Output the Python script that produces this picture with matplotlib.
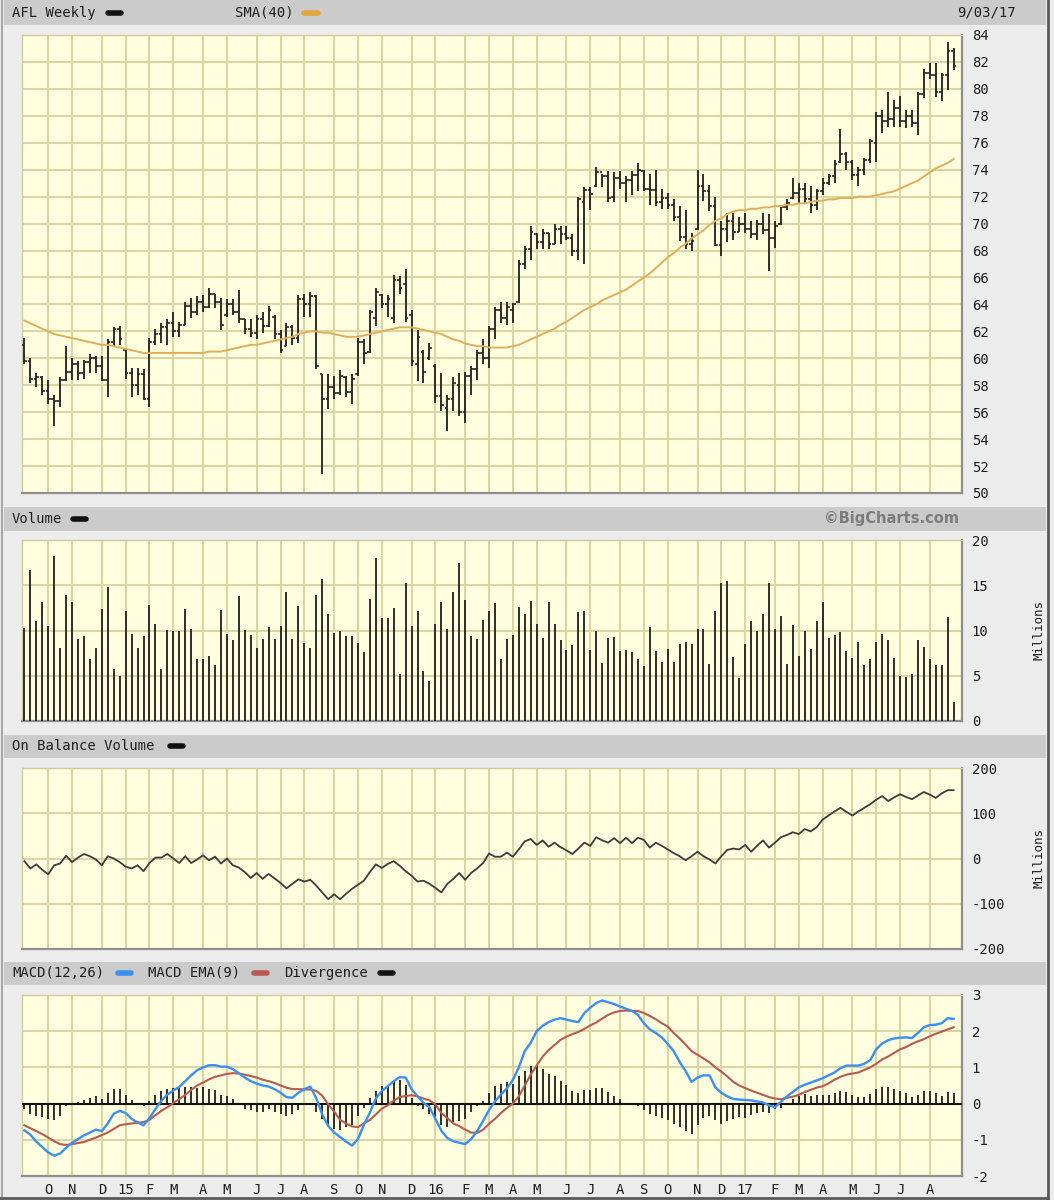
import matplotlib
matplotlib.use("Agg")
import numpy as np
import matplotlib.pyplot as plt
from matplotlib.lines import Line2D
from matplotlib.patches import Rectangle

# weekly bars, Sep 2014 - Aug 2017
HIGH = [61.5, 60.0, 58.9, 58.7, 58.4, 57.3, 58.6, 60.9, 60.0, 59.8,
        59.9, 60.3, 60.2, 60.2, 61.4, 62.3, 62.4, 60.7, 59.3, 59.3,
        59.2, 61.5, 62.2, 62.6, 62.9, 63.4, 62.7, 64.2, 64.5, 64.6,
        64.7, 65.2, 64.8, 64.5, 64.4, 64.4, 65.1, 62.9, 62.9, 63.2,
        63.4, 63.9, 63.2, 62.1, 62.6, 62.5, 64.7, 64.8, 64.9, 64.7,
        58.8, 58.8, 58.7, 59.1, 58.7, 58.8, 61.5, 61.4, 63.6, 65.2,
        64.8, 64.7, 66.2, 66.1, 66.6, 63.6, 62.1, 60.6, 61.1, 59.6,
        58.9, 57.3, 58.6, 58.9, 59.0, 59.4, 60.6, 61.4, 62.4, 63.8,
        64.2, 64.2, 64.1, 67.3, 68.3, 69.8, 69.3, 69.6, 69.3, 70.0,
        69.8, 69.8, 69.2, 72.0, 72.7, 72.7, 74.2, 73.7, 73.9, 73.8,
        73.9, 73.5, 73.9, 74.5, 74.0, 73.7, 74.0, 72.6, 72.3, 71.8,
        71.3, 71.0, 69.3, 74.0, 73.7, 72.9, 72.0, 70.2, 70.8, 70.8,
        70.5, 70.8, 70.2, 70.3, 70.8, 70.7, 70.2, 71.4, 71.8, 73.4,
        73.0, 73.0, 72.8, 72.6, 73.4, 73.7, 74.7, 77.0, 75.3, 74.7,
        74.2, 74.9, 76.3, 78.3, 78.4, 79.8, 79.2, 79.5, 78.4, 78.4,
        79.8, 81.5, 81.9, 81.9, 81.2, 83.5, 83.0]
LOW = [59.6, 58.2, 57.9, 57.3, 56.6, 55.0, 56.4, 58.3, 58.4, 58.4,
       58.5, 58.9, 58.9, 58.3, 57.1, 60.9, 61.0, 58.5, 57.1, 57.3,
       56.9, 56.4, 61.0, 61.1, 61.0, 61.6, 61.6, 62.5, 63.0, 63.2,
       63.4, 63.7, 63.7, 62.1, 63.1, 63.2, 62.6, 61.8, 61.6, 61.4,
       61.9, 62.3, 61.4, 60.4, 60.9, 61.0, 61.1, 63.1, 63.1, 59.2,
       51.4, 56.2, 57.0, 57.3, 57.1, 56.6, 58.7, 59.6, 60.4, 62.4,
       63.7, 63.1, 62.6, 64.8, 62.7, 59.4, 58.3, 58.2, 59.9, 56.7,
       56.1, 54.6, 56.1, 55.7, 55.2, 57.3, 58.4, 59.6, 59.3, 61.4,
       62.6, 62.5, 62.6, 64.1, 66.6, 67.3, 68.1, 68.1, 68.1, 68.5,
       68.5, 68.8, 67.6, 67.3, 67.0, 71.0, 72.7, 72.7, 71.6, 71.6,
       72.6, 71.6, 72.1, 72.4, 72.4, 71.4, 71.3, 71.1, 71.1, 70.2,
       68.7, 68.1, 68.0, 69.5, 71.7, 70.9, 68.3, 67.6, 68.6, 68.8,
       69.4, 69.3, 68.9, 68.8, 69.2, 66.5, 68.2, 69.9, 71.0, 71.8,
       71.5, 71.5, 70.8, 71.0, 72.1, 72.9, 73.0, 74.5, 74.0, 73.2,
       72.8, 73.6, 74.5, 74.6, 76.7, 77.2, 77.2, 77.2, 77.1, 77.2,
       76.6, 79.3, 80.7, 79.4, 79.1, 79.9, 81.4]
OPEN = [61.0, 59.8, 58.5, 58.6, 57.6, 57.0, 56.8, 58.4, 59.0, 59.6,
        58.9, 59.7, 60.0, 59.4, 58.4, 61.2, 62.2, 60.6, 58.9, 58.0,
        58.8, 57.0, 61.2, 61.8, 62.3, 62.6, 62.0, 62.5, 63.9, 63.4,
        64.2, 63.8, 64.8, 64.2, 63.2, 64.0, 63.4, 62.9, 62.2, 61.9,
        62.9, 62.4, 63.1, 61.8, 60.9, 62.3, 61.5, 64.4, 64.0, 64.6,
        58.8, 57.0, 57.9, 57.4, 58.6, 57.5, 58.8, 61.2, 60.5, 63.0,
        64.7, 64.0, 63.0, 65.8, 65.5, 63.2, 59.6, 60.5, 60.0, 59.4,
        57.2, 56.3, 57.0, 58.0, 56.0, 58.7, 59.2, 60.4, 60.0, 62.2,
        63.6, 63.0, 63.6, 64.2, 67.0, 68.1, 69.2, 68.6, 69.3, 68.5,
        69.6, 69.2, 68.9, 68.0, 71.6, 72.5, 72.8, 73.8, 73.5, 72.0,
        73.4, 73.0, 73.2, 73.6, 73.9, 72.6, 72.5, 71.6, 71.9, 71.4,
        70.5, 69.0, 68.5, 69.6, 72.8, 72.4, 71.3, 68.4, 69.6, 70.2,
        69.4, 70.0, 69.6, 69.2, 70.0, 69.5, 68.9, 70.0, 71.2, 71.9,
        72.3, 72.6, 71.8, 71.4, 72.4, 73.0, 73.5, 74.6, 75.2, 74.6,
        73.6, 74.0, 74.7, 76.0, 78.0, 77.6, 77.8, 78.6, 77.6, 78.0,
        77.5, 79.6, 81.2, 81.0, 79.8, 81.0, 82.8]
CLOSE = [59.8, 58.5, 58.6, 57.6, 57.0, 56.8, 58.4, 59.0, 59.6, 58.9,
         59.7, 60.0, 59.4, 58.4, 61.2, 62.2, 61.4, 58.9, 58.0, 58.8,
         57.0, 61.2, 61.8, 62.3, 62.6, 62.0, 62.5, 63.9, 63.4, 64.2,
         63.8, 64.8, 64.2, 62.5, 64.0, 63.4, 62.9, 62.2, 61.9, 62.9,
         62.4, 63.6, 61.8, 60.6, 62.3, 61.5, 64.4, 64.0, 64.6, 59.4,
         57.0, 57.9, 57.4, 58.7, 57.5, 58.5, 61.2, 60.4, 63.4, 64.9,
         64.0, 64.4, 65.8, 65.2, 63.0, 59.8, 61.6, 59.0, 60.8, 57.2,
         56.5, 57.0, 58.2, 56.0, 58.7, 59.2, 60.4, 60.0, 62.2, 63.6,
         63.0, 63.8, 64.0, 67.0, 68.1, 69.4, 68.6, 69.3, 68.5, 69.6,
         69.2, 68.9, 68.0, 71.8, 72.5, 72.2, 73.8, 73.5, 71.9, 73.4,
         73.0, 73.2, 73.6, 74.0, 72.6, 72.5, 71.6, 71.9, 71.4, 70.5,
         69.0, 68.5, 68.7, 72.8, 72.4, 71.3, 68.4, 69.6, 70.2, 69.4,
         70.0, 69.6, 69.2, 70.0, 69.5, 68.9, 69.8, 71.2, 71.5, 72.3,
         72.6, 71.8, 71.4, 72.4, 73.0, 73.5, 74.4, 75.2, 74.6, 73.6,
         74.0, 74.7, 76.1, 78.0, 77.6, 77.8, 78.6, 77.6, 78.0, 77.5,
         79.6, 81.2, 81.0, 79.8, 81.0, 82.8, 81.7]
SMA40 = [62.8, 62.6, 62.4, 62.2, 62.0, 61.8, 61.7, 61.6, 61.5, 61.4,
         61.3, 61.2, 61.1, 61.0, 61.0, 60.9, 60.8, 60.7, 60.6, 60.5,
         60.4, 60.4, 60.4, 60.4, 60.4, 60.4, 60.4, 60.4, 60.4, 60.4,
         60.4, 60.5, 60.5, 60.5, 60.6, 60.7, 60.8, 60.9, 61.0, 61.0,
         61.1, 61.2, 61.3, 61.4, 61.5, 61.6, 61.8, 61.9, 62.0, 62.0,
         61.9, 61.9, 61.8, 61.7, 61.6, 61.6, 61.6, 61.7, 61.8, 61.9,
         62.0, 62.1, 62.2, 62.3, 62.3, 62.3, 62.2, 62.1, 62.0, 61.9,
         61.8, 61.6, 61.4, 61.3, 61.1, 61.0, 60.9, 60.9, 60.8, 60.8,
         60.8, 60.8, 60.9, 61.0, 61.2, 61.4, 61.6, 61.8, 62.0, 62.2,
         62.5, 62.7, 63.0, 63.3, 63.6, 63.8, 64.0, 64.3, 64.5, 64.7,
         64.9, 65.1, 65.4, 65.7, 66.0, 66.3, 66.7, 67.1, 67.5, 67.8,
         68.2, 68.5, 68.9, 69.2, 69.5, 69.9, 70.2, 70.4, 70.7, 70.9,
         71.0, 71.0, 71.1, 71.1, 71.2, 71.2, 71.3, 71.3, 71.4, 71.4,
         71.5, 71.5, 71.6, 71.7, 71.7, 71.8, 71.8, 71.9, 71.9, 71.9,
         72.0, 72.0, 72.0, 72.1, 72.2, 72.3, 72.4, 72.6, 72.8, 73.0,
         73.2, 73.5, 73.8, 74.1, 74.3, 74.5, 74.8]

# volume, millions
VOLUME = [10.3, 16.7, 11.1, 13.2, 10.5, 18.2, 8.1, 13.9, 13.2, 9.1,
          9.4, 6.8, 8.1, 12.4, 14.8, 5.7, 5.0, 12.2, 9.6, 8.1,
          9.4, 12.8, 10.7, 5.7, 10.1, 10.0, 10.0, 12.4, 10.2, 6.8,
          6.8, 7.2, 6.2, 12.3, 9.6, 8.9, 13.8, 10.1, 9.5, 8.1,
          9.1, 10.4, 9.1, 10.5, 14.3, 9.1, 12.7, 8.6, 8.1, 13.9,
          15.7, 11.8, 9.7, 9.9, 9.4, 9.4, 8.6, 7.6, 13.5, 18.0,
          11.4, 11.4, 12.5, 5.2, 15.3, 10.5, 12.2, 5.5, 4.4, 10.7,
          13.1, 10.2, 14.3, 17.5, 13.4, 9.4, 9.1, 11.2, 12.2, 13.0,
          6.8, 9.1, 9.5, 12.6, 11.8, 13.3, 10.7, 9.2, 13.1, 10.7,
          8.9, 7.9, 8.4, 12.0, 12.1, 7.9, 10.0, 6.4, 9.2, 9.3,
          7.7, 7.9, 7.6, 6.8, 6.1, 10.4, 7.7, 6.5, 8.0, 6.5,
          8.5, 8.7, 8.5, 10.2, 10.2, 6.3, 12.1, 15.3, 15.5, 7.1,
          4.7, 8.5, 11.1, 10.0, 11.8, 15.3, 10.2, 11.6, 6.3, 10.6,
          7.2, 10.0, 8.0, 11.1, 13.1, 9.2, 9.5, 9.8, 7.7, 7.0,
          8.7, 6.2, 6.8, 8.7, 9.6, 8.9, 7.0, 5.0, 4.9, 5.2,
          8.9, 8.2, 6.8, 6.2, 6.2, 11.5, 2.1]

# on balance volume, millions
OBV = [-6, -22, -13, -25, -35, -15, -11, 6, -8, 2,
       10, 5, -2, -15, 5, 0, -8, -18, -22, -15,
       -28, -10, 2, 2, 10, 0, -10, 5, -10, -2,
       7, -4, 4, -11, 0, -15, -20, -30, -43, -32,
       -45, -34, -44, -54, -66, -56, -46, -51, -47, -60,
       -75, -90, -79, -90, -78, -67, -58, -49, -30, -13,
       -21, -12, -6, -16, -28, -38, -51, -49, -56, -65,
       -75, -56, -45, -32, -47, -32, -22, -10, 11, 4,
       4, 13, 4, 20, 38, 43, 30, 40, 26, 35,
       25, 18, 10, 22, 35, 28, 47, 40, 35, 45,
       34, 46, 34, 46, 41, 24, 35, 28, 20, 12,
       5, -4, 5, 15, 5, -2, -11, 5, 19, 22,
       20, 30, 15, 28, 40, 24, 35, 47, 52, 58,
       54, 65, 60, 69, 86, 95, 104, 112, 103, 95,
       104, 112, 120, 130, 138, 127, 135, 142, 136, 131,
       139, 147, 141, 134, 144, 151, 151]

MACD = [-0.74, -0.86, -1.05, -1.20, -1.35, -1.44, -1.38, -1.22, -1.08, -0.98,
        -0.88, -0.80, -0.72, -0.76, -0.55, -0.28, -0.20, -0.26, -0.42, -0.52,
        -0.60, -0.40, -0.15, 0.08, 0.25, 0.36, 0.46, 0.62, 0.78, 0.92,
        1.00, 1.06, 1.06, 1.02, 1.02, 0.95, 0.84, 0.72, 0.62, 0.55,
        0.50, 0.47, 0.40, 0.30, 0.18, 0.16, 0.30, 0.40, 0.47, 0.15,
        -0.30, -0.62, -0.80, -0.92, -1.05, -1.16, -0.98, -0.58, -0.25, 0.14,
        0.35, 0.48, 0.62, 0.73, 0.72, 0.40, 0.20, 0.02, -0.10, -0.42,
        -0.75, -0.95, -1.04, -1.08, -1.12, -0.98, -0.76, -0.48, -0.18, 0.06,
        0.25, 0.42, 0.65, 1.00, 1.45, 1.68, 2.00, 2.15, 2.25, 2.32,
        2.36, 2.32, 2.28, 2.25, 2.50, 2.65, 2.78, 2.85, 2.80, 2.75,
        2.68, 2.62, 2.56, 2.45, 2.22, 2.05, 1.95, 1.83, 1.65, 1.45,
        1.15, 0.90, 0.60, 0.72, 0.78, 0.78, 0.45, 0.30, 0.20, 0.13,
        0.11, 0.10, 0.09, 0.06, 0.03, -0.05, -0.10, 0.05, 0.20, 0.32,
        0.45, 0.52, 0.58, 0.64, 0.70, 0.78, 0.86, 0.98, 1.05, 1.05,
        1.05, 1.10, 1.20, 1.50, 1.66, 1.75, 1.80, 1.82, 1.83, 1.81,
        1.95, 2.11, 2.17, 2.18, 2.22, 2.36, 2.34]
SIGNAL = [-0.60, -0.68, -0.76, -0.84, -0.94, -1.04, -1.12, -1.14, -1.12, -1.09,
          -1.06, -1.00, -0.94, -0.87, -0.80, -0.70, -0.60, -0.57, -0.55, -0.53,
          -0.51, -0.45, -0.32, -0.20, -0.10, 0.02, 0.12, 0.24, 0.38, 0.50,
          0.58, 0.67, 0.74, 0.78, 0.82, 0.84, 0.83, 0.80, 0.76, 0.72,
          0.66, 0.62, 0.57, 0.50, 0.44, 0.40, 0.40, 0.39, 0.39, 0.35,
          0.22, -0.02, -0.22, -0.45, -0.55, -0.63, -0.65, -0.55, -0.45, -0.30,
          -0.14, -0.05, 0.08, 0.18, 0.21, 0.23, 0.20, 0.14, 0.09, -0.02,
          -0.26, -0.40, -0.55, -0.62, -0.72, -0.80, -0.81, -0.72, -0.56, -0.42,
          -0.26, -0.12, 0.00, 0.20, 0.50, 0.80, 1.05, 1.30, 1.48, 1.62,
          1.76, 1.85, 1.92, 1.98, 2.06, 2.16, 2.24, 2.35, 2.45, 2.52,
          2.56, 2.57, 2.56, 2.56, 2.50, 2.42, 2.33, 2.22, 2.13, 1.95,
          1.80, 1.63, 1.45, 1.35, 1.25, 1.14, 1.00, 0.88, 0.75, 0.60,
          0.50, 0.43, 0.36, 0.30, 0.24, 0.18, 0.14, 0.12, 0.16, 0.19,
          0.24, 0.32, 0.38, 0.44, 0.48, 0.56, 0.66, 0.74, 0.80, 0.83,
          0.86, 0.93, 1.00, 1.10, 1.22, 1.30, 1.40, 1.50, 1.56, 1.65,
          1.72, 1.78, 1.86, 1.93, 1.99, 2.05, 2.11]
DIVERGENCE = [-0.14, -0.28, -0.33, -0.37, -0.42, -0.44, -0.33, -0.07, 0.00, 0.05,
              0.11, 0.16, 0.20, 0.12, 0.30, 0.40, 0.40, 0.25, 0.09, 0.03,
              -0.07, 0.07, 0.23, 0.35, 0.40, 0.42, 0.44, 0.45, 0.45, 0.44,
              0.45, 0.39, 0.37, 0.25, 0.20, 0.12, 0.02, -0.14, -0.19, -0.23,
              -0.23, -0.14, -0.23, -0.28, -0.33, -0.28, -0.17, 0.00, 0.03, -0.23,
              -0.42, -0.60, -0.70, -0.74, -0.65, -0.60, -0.33, -0.11, 0.16, 0.35,
              0.48, 0.49, 0.62, 0.65, 0.51, 0.16, -0.07, -0.14, -0.28, -0.42,
              -0.60, -0.65, -0.51, -0.47, -0.42, -0.23, -0.07, 0.07, 0.30, 0.48,
              0.54, 0.60, 0.53, 0.77, 0.90, 1.05, 1.05, 0.95, 0.83, 0.77,
              0.63, 0.52, 0.35, 0.28, 0.38, 0.38, 0.43, 0.43, 0.32, 0.21,
              0.12, 0.02, -0.04, -0.06, -0.18, -0.28, -0.34, -0.39, -0.46, -0.56,
              -0.65, -0.76, -0.83, -0.59, -0.41, -0.34, -0.46, -0.56, -0.48, -0.42,
              -0.37, -0.39, -0.31, -0.27, -0.23, -0.25, -0.16, -0.11, 0.03, 0.12,
              0.21, 0.26, 0.21, 0.24, 0.24, 0.24, 0.28, 0.35, 0.33, 0.23,
              0.19, 0.17, 0.26, 0.40, 0.47, 0.47, 0.40, 0.35, 0.28, 0.19,
              0.23, 0.35, 0.35, 0.29, 0.21, 0.32, 0.28]

# first weekly bar of each month and its label
MONTH_WEEKS = [4, 8, 13, 17, 21, 25, 30, 34, 39, 43, 47, 52, 56, 60, 65, 69, 74, 78,
               82, 86, 91, 95, 100, 104, 108, 113, 117, 121, 126, 130, 134, 139, 143,
               147, 152]
MONTH_LABELS = ['O', 'N', 'D', '15', 'F', 'M', 'A', 'M', 'J', 'J', 'A', 'S',
                'O', 'N', 'D', '16', 'F', 'M', 'A', 'M', 'J', 'J', 'A', 'S',
                'O', 'N', 'D', '17', 'F', 'M', 'A', 'M', 'J', 'J', 'A']

PRICE_TICKS = list(range(50, 85, 2))
VOLUME_TICKS = [0, 5, 10, 15, 20]
OBV_TICKS = [-200, -100, 0, 100, 200]
MACD_TICKS = [-2, -1, 0, 1, 2, 3]

plt.rcParams['font.family'] = ['DejaVu Sans Mono']
plt.rcParams['axes.unicode_minus'] = False

W, H = 1054, 1200
fig = plt.figure(figsize=(W / 100, H / 100), dpi=100)
fig.patch.set_facecolor('#ececec')

BG = '#ffffe0'
GRID = '#dad6a4'
BAR = '#262626'
TXT = '#1e1e1e'
x = np.arange(len(CLOSE))


def px_axes(left, top, right, bottom):
    return fig.add_axes([left / W, 1 - bottom / H, (right - left) / W, (bottom - top) / H])


def style(ax, yticks, ylim):
    ax.set_facecolor(BG)
    ax.set_xlim(-0.4, 157.4)
    ax.set_ylim(*ylim)
    ax.set_xticks(MONTH_WEEKS)
    ax.set_yticks(yticks)
    ax.grid(True, color=GRID, lw=1.5, zorder=0)
    ax.set_axisbelow(True)
    ax.yaxis.tick_right()
    ax.tick_params(axis='y', length=0, pad=7, labelsize=10, labelcolor=TXT)
    ax.tick_params(axis='x', length=0, labelbottom=False)
    for s in ('top', 'left'):
        ax.spines[s].set_color('#cfcb9a')
        ax.spines[s].set_linewidth(1)
    for s in ('bottom', 'right'):
        ax.spines[s].set_color('#8e8e8e')
        ax.spines[s].set_linewidth(1.6)


def header(top, bottom):
    fig.add_artist(Rectangle((4 / W, 1 - bottom / H), 1042 / W, (bottom - top) / H,
                             transform=fig.transFigure, facecolor='#cbcbcb',
                             edgecolor='none', zorder=0))


def swatch(x0, x1, y, color):
    fig.add_artist(Line2D([x0 / W, x1 / W], [1 - y / H, 1 - y / H], color=color, lw=4,
                          solid_capstyle='round', transform=fig.transFigure))


def label(xp, y, s, **kw):
    fig.text(xp / W, 1 - y / H, s, va='center', fontsize=10, color=TXT, **kw)


# outer frame
fig.add_artist(Line2D([1048 / W, 1048 / W], [0, 1], color='#5a5a5a', lw=2,
                      transform=fig.transFigure))
fig.add_artist(Line2D([2 / W, 2 / W], [0, 1], color='#a8a8a8', lw=1.5,
                      transform=fig.transFigure))
fig.add_artist(Line2D([0, 1048 / W], [1 - 1198 / H, 1 - 1198 / H], color='#5a5a5a', lw=2,
                      transform=fig.transFigure))

# price panel
header(0, 25)
label(12, 13, 'AFL Weekly')
swatch(108, 121, 13, '#111111')
label(235, 13, 'SMA(40)')
swatch(304, 318, 13, '#e2a640')
label(1016, 13, '9/03/17', ha='right')

ax1 = px_axes(22, 35, 962, 493)
style(ax1, PRICE_TICKS, (50, 84))
ax1.vlines(x, LOW, HIGH, color=BAR, lw=1.35, zorder=3)
ax1.hlines(OPEN, x - 0.45, x, color=BAR, lw=1.2, zorder=3)
ax1.hlines(CLOSE, x, x + 0.45, color=BAR, lw=1.2, zorder=3)
ax1.plot(x, SMA40, color='#e2ad58', lw=1.4, zorder=4)

# volume panel
header(507, 531)
label(12, 519, 'Volume')
swatch(73, 86, 519, '#111111')
fig.text(959 / W, 1 - 519 / H, '\u00a9BigCharts.com', va='center', ha='right',
         fontsize=10.5, color='#7c7c7c', fontweight='bold', family='DejaVu Sans')

ax2 = px_axes(22, 540, 962, 721)
style(ax2, VOLUME_TICKS, (0, 20))
ax2.vlines(x, 0, VOLUME, color=BAR, lw=1.35, zorder=3)
ax2.text(1.082, 0.5, 'Millions', transform=ax2.transAxes, rotation=90,
         va='center', ha='center', fontsize=9, color=TXT)

# on balance volume panel
header(735, 758)
label(12, 746, 'On Balance Volume')
swatch(170, 183, 746, '#111111')

ax3 = px_axes(22, 768, 962, 949)
style(ax3, OBV_TICKS, (-200, 200))
ax3.plot(x, OBV, color='#3c3c3c', lw=1.3, zorder=3)
ax3.text(1.082, 0.5, 'Millions', transform=ax3.transAxes, rotation=90,
         va='center', ha='center', fontsize=9, color=TXT)

# MACD panel
header(962, 985)
label(12, 973, 'MACD(12,26)')
swatch(118, 131, 973, '#3a8ff0')
label(148, 973, 'MACD EMA(9)')
swatch(254, 267, 973, '#b85a50')
label(284, 973, 'Divergence')
swatch(380, 393, 973, '#111111')

ax4 = px_axes(22, 995, 962, 1176)
style(ax4, MACD_TICKS, (-2, 3))
ax4.vlines(x, 0, DIVERGENCE, color=BAR, lw=1.35, zorder=3)
ax4.axhline(0, color='#111111', lw=1.5, zorder=4)
ax4.plot(x, SIGNAL, color='#b85a50', lw=1.5, zorder=5)
ax4.plot(x, MACD, color='#3a8ff0', lw=1.7, zorder=6)
ax4.set_xticklabels(MONTH_LABELS)
ax4.tick_params(axis='x', length=0, labelbottom=True, pad=5, labelsize=10,
                labelcolor=TXT)

fig.savefig('out.png', dpi=100, facecolor=fig.get_facecolor())
